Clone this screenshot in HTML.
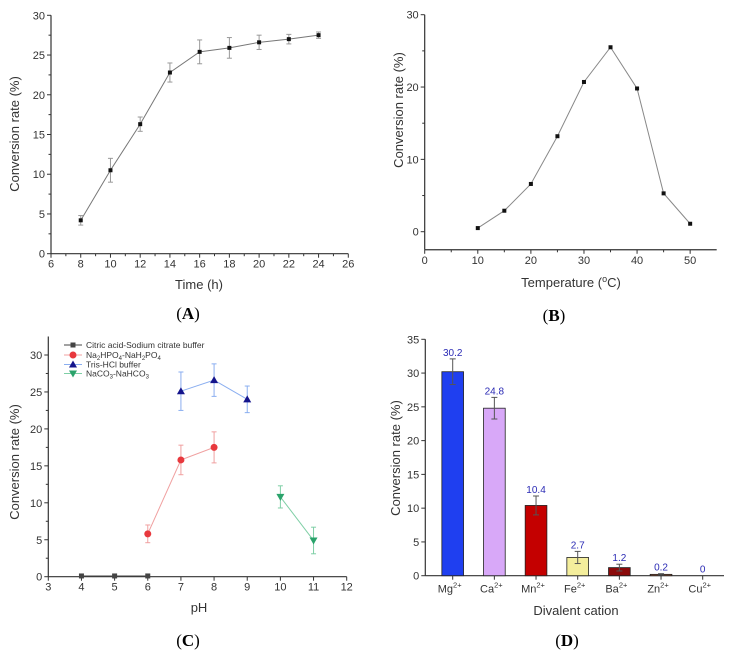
<!DOCTYPE html>
<html><head><meta charset="utf-8"><style>
html,body{margin:0;padding:0;background:#fff;}
svg{display:block;font-family:"Liberation Sans",sans-serif;}
.cap{font-family:"Liberation Serif",serif;font-size:17px;fill:#000;}
</style></head><body>
<svg id="fig" width="732" height="653" viewBox="0 0 732 653" xmlns="http://www.w3.org/2000/svg"></svg>
<script>
// Panel A data
const timeH = [8,10,12,14,16,18,20,22,24];
const convA = [4.2,10.5,16.3,22.8,25.4,25.9,26.6,27.0,27.5];
const errA = [0.6,1.5,0.9,1.2,1.5,1.3,0.9,0.6,0.4];
const ticksAX = [6,8,10,12,14,16,18,20,22,24,26];
const ticksAY = [0,5,10,15,20,25,30];
// Panel B data
const tempC = [10,15,20,25,30,35,40,45,50];
const convB = [0.5,2.9,6.6,13.2,20.7,25.5,19.8,5.3,1.1];
const ticksBX = [0,10,20,30,40,50];
const ticksBY = [0,10,20,30];
// Panel C data
const phCitric = [4,5,6];
const convCitric = [0.1,0.1,0.1];
const errCitric = [0,0,0];
const phPhos = [6,7,8];
const convPhos = [5.8,15.8,17.5];
const errPhos = [1.2,2.0,2.1];
const phTris = [7,8,9];
const convTris = [25.1,26.6,24.0];
const errTris = [2.6,2.2,1.8];
const phCarb = [10,11];
const convCarb = [10.8,4.9];
const errCarb = [1.5,1.8];
const ticksCX = [3,4,5,6,7,8,9,10,11,12];
const ticksCY = [0,5,10,15,20,25,30];
// Panel D data
const cations = ["Mg","Ca","Mn","Fe","Ba","Zn","Cu"];
const convD = [30.2,24.8,10.4,2.7,1.2,0.2,0];
const errD = [1.9,1.6,1.4,0.9,0.5,0.1,0];
const labelsD = ["30.2","24.8","10.4","2.7","1.2","0.2","0"];
const ticksDY = [0,5,10,15,20,25,30,35];

const NS="http://www.w3.org/2000/svg";
const svg=document.getElementById('fig');
function mk(tag,attrs,parent,text){const e=document.createElementNS(NS,tag);for(const k in attrs)e.setAttribute(k,attrs[k]);if(text!==undefined)e.textContent=text;(parent||svg).appendChild(e);return e;}
function scale(d0,d1,r0,r1){return v=>r0+(v-d0)*(r1-r0)/(d1-d0);}

function axes(g,x,y,xd,yd,xt,yt,opt){
  const [x0,x1]=xd,[y0,y1]=yd;
  const X0=x(x0),X1=x(x1),Y0=y(y0),Y1=y(y1);
  let l=mk('line',{x1:X0,y1:Y0,x2:X1,y2:Y0,stroke:'#333','stroke-width':1.2},g);
  
  l=mk('line',{x1:X0,y1:Y0,x2:X0,y2:Y1,stroke:'#333','stroke-width':1.2},g);
  
  xt.forEach((v,i)=>{
    mk('line',{x1:x(v),y1:Y0,x2:x(v),y2:Y0+4,stroke:'#333'},g);
    if(opt.xminor&&i<xt.length-1){const m=(v+xt[i+1])/2;mk('line',{x1:x(m),y1:Y0,x2:x(m),y2:Y0+2.5,stroke:'#333'},g);}
    if(!opt.noXLabels){const t=mk('text',{x:x(v),y:Y0+14,'text-anchor':'middle','font-size':11,fill:'#333'},g,String(v));
    }
  });
  yt.forEach((v,i)=>{
    mk('line',{x1:X0,y1:y(v),x2:X0-4,y2:y(v),stroke:'#333'},g);
    if(i<yt.length-1){const m=(v+yt[i+1])/2;mk('line',{x1:X0,y1:y(m),x2:X0-2.5,y2:y(m),stroke:'#333'},g);}
    const t=mk('text',{x:X0-6,y:y(v)+4,'text-anchor':'end','font-size':11,fill:'#333'},g,String(v));
    
  });
}
function ytitle(g,x,y,txt){const t=mk('text',{x:x,y:y,'text-anchor':'middle','font-size':13,fill:'#333',transform:`rotate(-90 ${x} ${y})`},g,txt);
}
function xtitle(g,x,y,txt){const t=mk('text',{x:x,y:y,'text-anchor':'middle','font-size':13,fill:'#333'},g,txt);
return t;}
function caption(x,y,l){const t=mk('text',{x:x,y:y,'text-anchor':'middle',class:'cap'});
const a=mk('tspan',{},t,'(');const b=mk('tspan',{'font-weight':'bold'},t,l);mk('tspan',{},t,')');
}
function errbar(g,cx,yv,e,y,col,w){
  if(e<=0)return;
  mk('line',{x1:cx,y1:y(yv-e),x2:cx,y2:y(yv+e),stroke:col,'stroke-width':1},g);
  mk('line',{x1:cx-w,y1:y(yv+e),x2:cx+w,y2:y(yv+e),stroke:col},g);
  mk('line',{x1:cx-w,y1:y(yv-e),x2:cx+w,y2:y(yv-e),stroke:col},g);
}

// ---------- Panel A ----------
{
const g=mk('g',{});
const x=scale(6,26,51,348.3),y=scale(0,30,253.7,15.3);
axes(g,x,y,[6,26],[0,30],ticksAX,ticksAY,{xminor:true});
ytitle(g,19,134,'Conversion rate (%)');xtitle(g,199,289,'Time (h)');
mk('polyline',{points:timeH.map((t,i)=>x(t)+','+y(convA[i])).join(' '),fill:'none',stroke:'#777','stroke-width':1},g);
timeH.forEach((t,i)=>{errbar(g,x(t),convA[i],errA[i],y,'#999',2.5);
const p=mk('rect',{x:x(t)-2,y:y(convA[i])-2,width:4,height:4,fill:'#111'},g);
});
caption(188,319,'A');
}
// ---------- Panel B ----------
{
const g=mk('g',{});
const x=scale(0,55,424.7,716.7),y=scale(0,30,231.7,14.7);
axes(g,x,y,[0,55],[-2.5,30],ticksBX,ticksBY,{xminor:true});
ytitle(g,403,110,'Conversion rate (%)');
const t=mk('text',{x:571,y:287,'text-anchor':'middle','font-size':13,fill:'#333'},g);

mk('tspan',{},t,'Temperature (');mk('tspan',{'font-size':9,dy:-5},t,'o');mk('tspan',{dy:5},t,'C)');
mk('polyline',{points:tempC.map((v,i)=>x(v)+','+y(convB[i])).join(' '),fill:'none',stroke:'#888','stroke-width':1},g);
tempC.forEach((v,i)=>{const p=mk('rect',{x:x(v)-2,y:y(convB[i])-2,width:4,height:4,fill:'#111'},g);
});
caption(554,321,'B');
}
// ---------- Panel C ----------
{
const g=mk('g',{});
const x=scale(3,12,48.3,346.7),y=scale(0,30,576.7,355);
axes(g,x,y,[3,12],[0,32.5],ticksCX,ticksCY,{});
ytitle(g,19,462,'Conversion rate (%)');xtitle(g,199,612,'pH');
const series=[
 {n:'citric',px:phCitric,v:convCitric,e:errCitric,c:'#444',lc:'#444',m:'sq'},
 {n:'phosphate',px:phPhos,v:convPhos,e:errPhos,c:'#e8383d',lc:'#f0a0a0',m:'ci'},
 {n:'tris',px:phTris,v:convTris,e:errTris,c:'#14148c',lc:'#8aaef0',m:'up'},
 {n:'carbonate',px:phCarb,v:convCarb,e:errCarb,c:'#2aa36b',lc:'#7fcfa6',m:'dn'}];
function marker(cx,cy,s,gg){
 let e;
 if(s.m==='sq')e=mk('rect',{x:cx-2.5,y:cy-2.5,width:5,height:5,fill:s.c},gg);
 else if(s.m==='ci')e=mk('circle',{cx:cx,cy:cy,r:3.5,fill:s.c},gg);
 else if(s.m==='up')e=mk('polygon',{points:`${cx},${cy-4} ${cx-4},${cy+3} ${cx+4},${cy+3}`,fill:s.c},gg);
 else e=mk('polygon',{points:`${cx},${cy+4} ${cx-4},${cy-3} ${cx+4},${cy-3}`,fill:s.c},gg);
 return e;}
series.forEach(s=>{
 const sg=mk('g',{},g);
 mk('polyline',{points:s.px.map((p,i)=>x(p)+','+y(s.v[i])).join(' '),fill:'none',stroke:s.lc,'stroke-width':1},sg);
 s.px.forEach((p,i)=>{errbar(sg,x(p),s.v[i],s.e[i],y,s.lc,2.5);
  const m=marker(x(p),y(s.v[i]),s,sg);});
});
const lg=mk('g',{},g);
const rows=[345,355,364.5,373.5];
const texts=[['Citric acid-Sodium citrate buffer'],['Na','2','HPO','4','-NaH','2','PO','4'],['Tris-HCl buffer'],['NaCO','3','-NaHCO','3']];
series.forEach((s,i)=>{
 const eg=mk('g',{},lg);
 mk('line',{x1:64,y1:rows[i],x2:82,y2:rows[i],stroke:s.lc},eg);
 const ss=Object.assign({},s);marker(73,rows[i],ss,eg);
 const t=mk('text',{x:86,y:rows[i]+3,'font-size':8.5,fill:'#333'},eg);
 texts[i].forEach((p,j)=>{ if(j%2===1) mk('tspan',{'font-size':6,dy:2},t,p); else mk('tspan',{dy:j>0?-2:0},t,p);});
});
caption(188,646,'C');
}
// ---------- Panel D ----------
{
const g=mk('g',{});
const x=scale(0,6,452.7,702.7),y=scale(0,35,575.7,339.3);
const X0=425.3;
mk('line',{x1:X0,y1:y(0),x2:724,y2:y(0),stroke:'#333','stroke-width':1.2},g);
mk('line',{x1:X0,y1:y(0),x2:X0,y2:y(35),stroke:'#333','stroke-width':1.2},g);
ticksDY.forEach(v=>{mk('line',{x1:X0,y1:y(v),x2:X0-4,y2:y(v),stroke:'#333'},g);
 const t=mk('text',{x:X0-6,y:y(v)+4,'text-anchor':'end','font-size':11,fill:'#333'},g,String(v));
 });
ytitle(g,400,458,'Conversion rate (%)');xtitle(g,576,615,'Divalent cation');
const colors=['#1f3ff0','#d8a8f8','#c40000','#f4ee9c','#8b0a0a','#b0603a','#888'];
cations.forEach((c,i)=>{
 const cx=x(i),w=21.7;
 if(convD[i]>0){const b=mk('rect',{x:cx-w/2,y:y(convD[i]),width:w,height:y(0)-y(convD[i]),fill:colors[i],stroke:'#222','stroke-width':0.8},g);
 }
 errbar(g,cx,convD[i],errD[i],y,'#555',3);
 const lt=mk('text',{x:cx,y:y(convD[i]+errD[i])-3,'text-anchor':'middle','font-size':10,fill:'#2b2bb5'},g,labelsD[i]);
 
 mk('line',{x1:cx,y1:y(0),x2:cx,y2:y(0)+4,stroke:'#333'},g);
 const t=mk('text',{x:cx-3,y:y(0)+17,'text-anchor':'middle','font-size':11,fill:'#333'},g);
 
 mk('tspan',{},t,c);mk('tspan',{'font-size':7.5,dy:-5},t,'2+');
});
caption(567,646,'D');
}
</script>
</body></html>
